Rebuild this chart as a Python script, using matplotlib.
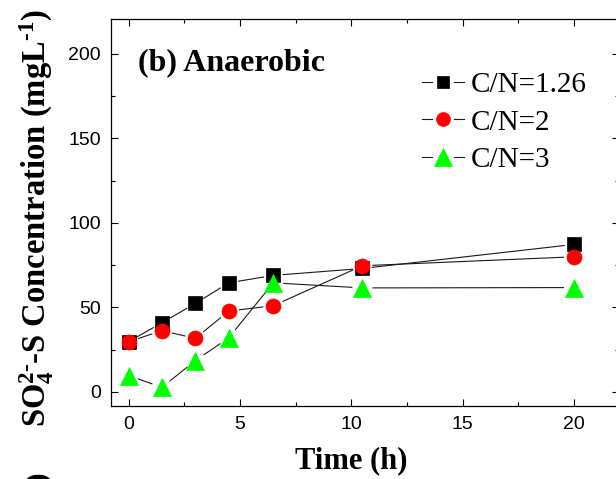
import matplotlib
matplotlib.use("Agg")
import matplotlib.pyplot as plt
from matplotlib.lines import Line2D
from matplotlib.legend_handler import HandlerBase
from matplotlib.ticker import MultipleLocator

# Sulfate-S concentration over time for three C/N ratios (anaerobic phase)
time_h = [0, 1.5, 3, 4.5, 6.5, 10.5, 20]
cn_126 = [29.7, 40.9, 52.3, 64.5, 68.9, 73.0, 87.2]
cn_2 = [29.7, 36.2, 31.7, 47.8, 51.0, 74.6, 79.9]
cn_3 = [9.7, 2.7, 18.5, 32.0, 64.5, 61.5, 61.7]
series_labels = ["C/N=1.26", "C/N=2", "C/N=3"]
x_ticks = [0, 5, 10, 15, 20]
y_ticks = [0, 50, 100, 150, 200]

SERIF = "Liberation Serif"
SANS = "Liberation Sans"
plt.rcParams["mathtext.fontset"] = "custom"
plt.rcParams["mathtext.rm"] = "Liberation Serif:bold"
plt.rcParams["mathtext.it"] = "Liberation Serif:bold"
plt.rcParams["mathtext.bf"] = "Liberation Serif:bold"


class GapLineHandler(HandlerBase):
    """Legend key drawn as: short line, gap, marker, gap, short line."""

    def create_artists(self, legend, orig_handle, xdescent, ydescent,
                       width, height, fontsize, trans):
        y = (height - ydescent) / 2
        x0 = -xdescent
        seg = 0.24 * width
        kw = dict(color=orig_handle.get_color(), lw=orig_handle.get_linewidth())
        left = Line2D([x0, x0 + seg], [y, y], **kw)
        right = Line2D([x0 + width - seg, x0 + width], [y, y], **kw)
        mk = Line2D([x0 + width / 2], [y], linestyle="none",
                    marker=orig_handle.get_marker(), ms=orig_handle.get_markersize(),
                    mfc=orig_handle.get_markerfacecolor(),
                    mec=orig_handle.get_markeredgecolor(), mew=0.5)
        for a in (left, right, mk):
            a.set_transform(trans)
        return [left, right, mk]


W, H = 616, 479
fig = plt.figure(figsize=(W / 100, H / 100), dpi=100)
ax_l, ax_r, ax_t, ax_b = 110.7, 618.5, 19.0, 406.3
ax = fig.add_axes([ax_l / W, 1 - ax_b / H, (ax_r - ax_l) / W, (ax_b - ax_t) / H])

styles = [
    dict(marker="s", color="black", ms=9.7, leg_ms=9.0, gap=7.0),
    dict(marker="o", color="red", ms=10.8, leg_ms=10.0, gap=7.5),
    dict(marker="^", color="#00ff00", ms=12.5, leg_ms=12.3, gap=7.5),
]
all_series = [cn_126, cn_2, cn_3]

for vals, st in zip(all_series, styles):
    # connecting segments with small gaps at the markers
    for i in range(len(time_h) - 1):
        ax.annotate("", xy=(time_h[i + 1], vals[i + 1]), xytext=(time_h[i], vals[i]),
                    arrowprops=dict(arrowstyle="-", color="#1a1a1a", lw=0.8,
                                    shrinkA=st["gap"], shrinkB=st["gap"]),
                    zorder=2)
for vals, st in zip(all_series, styles):
    ax.plot(time_h, vals, linestyle="none", marker=st["marker"], ms=st["ms"],
            mfc=st["color"], mec=st["color"], mew=0.5, zorder=3)

ax.set_xlim(-0.8, 22)
ax.set_ylim(-8.5, 220.5)
ax.set_xticks(x_ticks)
ax.set_yticks(y_ticks)
ax.xaxis.set_minor_locator(MultipleLocator(2.5))
ax.yaxis.set_minor_locator(MultipleLocator(25))
ax.tick_params(which="both", direction="in", top=True, right=True, width=0.8,
               labelsize=14, pad=7, colors="black")
ax.tick_params(which="major", length=5)
ax.tick_params(which="minor", length=3)
for lab in ax.get_xticklabels() + ax.get_yticklabels():
    lab.set_fontfamily(SANS)
for sp in ax.spines.values():
    sp.set_linewidth(0.9)

ax.set_xlabel("Time (h)", fontsize=22, fontweight="bold", family=SERIF)
ax.xaxis.label.set_va("baseline")
ax.xaxis.set_label_coords((351 - ax_l) / (ax_r - ax_l), (ax_b - 468) / (ax_b - ax_t))

ax.set_ylabel(r"SO$_4^{2\text{-}}$-S Concentration (mgL$^{\text{-}1}$)", fontsize=23.5,
              fontweight="bold", family=SERIF)
ax.yaxis.label.set_va("baseline")
ax.yaxis.set_label_coords((46 - ax_l) / (ax_r - ax_l), (ax_b - 218.5) / (ax_b - ax_t))

ax.text((138 - ax_l) / (ax_r - ax_l), (ax_b - 70) / (ax_b - ax_t), "(b) Anaerobic",
        transform=ax.transAxes, fontsize=23, fontweight="bold", family=SERIF,
        ha="left", va="baseline")

handles = [Line2D([], [], color="#1a1a1a", lw=0.8, marker=st["marker"],
                  ms=st["leg_ms"], mfc=st["color"], mec=st["color"])
           for st in styles]
leg = ax.legend(handles, series_labels, loc="upper left",
                bbox_to_anchor=(421.7 / W, 1 - 72 / H), bbox_transform=fig.transFigure,
                frameon=False, borderpad=0, borderaxespad=0, handlelength=1.45,
                handletextpad=0.22, labelspacing=0.37, numpoints=1,
                handler_map={Line2D: GapLineHandler()},
                prop=dict(family=SERIF, size=21))

# top of the neighbouring panel's axis label
fig.text(38 / W, -3 / H, ")", rotation=90, ha="center", va="bottom",
         fontsize=23, fontweight="bold", family=SERIF)

fig.savefig("out.png", dpi=100)
